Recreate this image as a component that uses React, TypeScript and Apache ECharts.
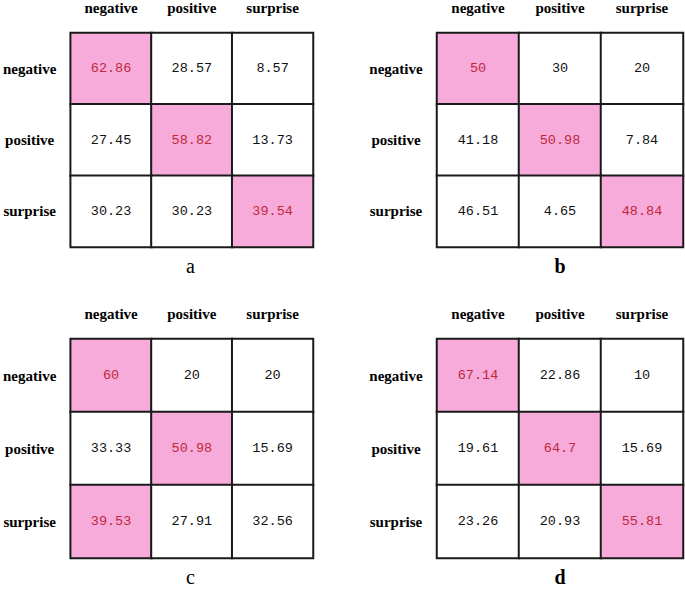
import React, { useEffect, useRef } from "react";
import * as echarts from "echarts";

const categories = ["negative", "positive", "surprise"];
const panelNames = ["a", "b", "c", "d"];
const panelBold = [false, true, false, true];

const matrixA = [
  [62.86, 28.57, 8.57],
  [27.45, 58.82, 13.73],
  [30.23, 30.23, 39.54],
];
const matrixB = [
  [50, 30, 20],
  [41.18, 50.98, 7.84],
  [46.51, 4.65, 48.84],
];
const matrixC = [
  [60, 20, 20],
  [33.33, 50.98, 15.69],
  [39.53, 27.91, 32.56],
];
const matrixD = [
  [67.14, 22.86, 10],
  [19.61, 64.7, 15.69],
  [23.26, 20.93, 55.81],
];

const matrices = [matrixA, matrixB, matrixC, matrixD];

const PINK = "#F7ABDA";
const RED = "#C0283C";

const grids = [
  { left: 68, top: 29, width: 245, height: 218 },
  { left: 437, top: 29, width: 246, height: 218 },
  { left: 68, top: 339, width: 245, height: 219 },
  { left: 437, top: 339, width: 246, height: 219 },
];

export default function App() {
  const ref = useRef<HTMLDivElement>(null);
  useEffect(() => {
    if (!ref.current) return;
    const chart = echarts.init(ref.current, undefined, { renderer: "svg" });
    const labelFont = {
      fontFamily: "Liberation Serif",
      fontWeight: "bold" as const,
      fontSize: 15,
      color: "#000",
    };
    const xAxis = grids.map((_, i) => ({
      type: "category",
      gridIndex: i,
      data: categories,
      position: "top",
      axisLine: { show: false },
      axisTick: { show: false },
      splitLine: { show: false },
      axisLabel: { ...labelFont, margin: 18 },
    }));
    const yAxis = grids.map((_, i) => ({
      type: "category",
      gridIndex: i,
      data: categories,
      inverse: true,
      axisLine: { show: false },
      axisTick: { show: false },
      splitLine: { show: false },
      axisLabel: { ...labelFont, margin: 41, align: "center" },
    }));
    const series = matrices.map((m, i) => {
      const data: any[] = [];
      m.forEach((row, r) => {
        const mx = Math.max(...row);
        row.forEach((v, c) => {
          const hi = v === mx;
          data.push({
            value: [c, r, v, hi ? 1 : 0],
            label: { color: hi ? RED : "#111" },
          });
        });
      });
      return {
        type: "heatmap",
        xAxisIndex: i,
        yAxisIndex: i,
        data,
        itemStyle: { borderColor: "#1a1a1a", borderWidth: 2 },
        emphasis: { disabled: true },
        label: {
          show: true,
          fontFamily: "Liberation Mono",
          fontSize: 13.5,
          formatter: (p: any) => String(p.value[2]),
        },
      };
    });
    const graphic = grids.map((g, i) => ({
      type: "text",
      x: g.left + g.width / 2,
      y: i < 2 ? 266 : 577,
      style: {
        text: panelNames[i],
        fontFamily: "Liberation Serif",
        fontSize: 20,
        fontWeight: panelBold[i] ? "bold" : "normal",
        fill: "#000",
        textAlign: "center",
        textVerticalAlign: "middle",
      },
    }));
    chart.setOption({
      animation: false,
      backgroundColor: "#fff",
      grid: grids,
      xAxis,
      yAxis,
      visualMap: {
        type: "piecewise",
        show: false,
        dimension: 3,
        seriesIndex: [0, 1, 2, 3],
        pieces: [
          { value: 1, color: PINK },
          { value: 0, color: "#ffffff" },
        ],
      },
      series,
      graphic,
    } as any);
    return () => chart.dispose();
  }, []);
  return (
    <div
      ref={ref}
      style={{ position: "fixed", left: 0, top: 0, width: 685, height: 589, background: "#fff" }}
    />
  );
}
